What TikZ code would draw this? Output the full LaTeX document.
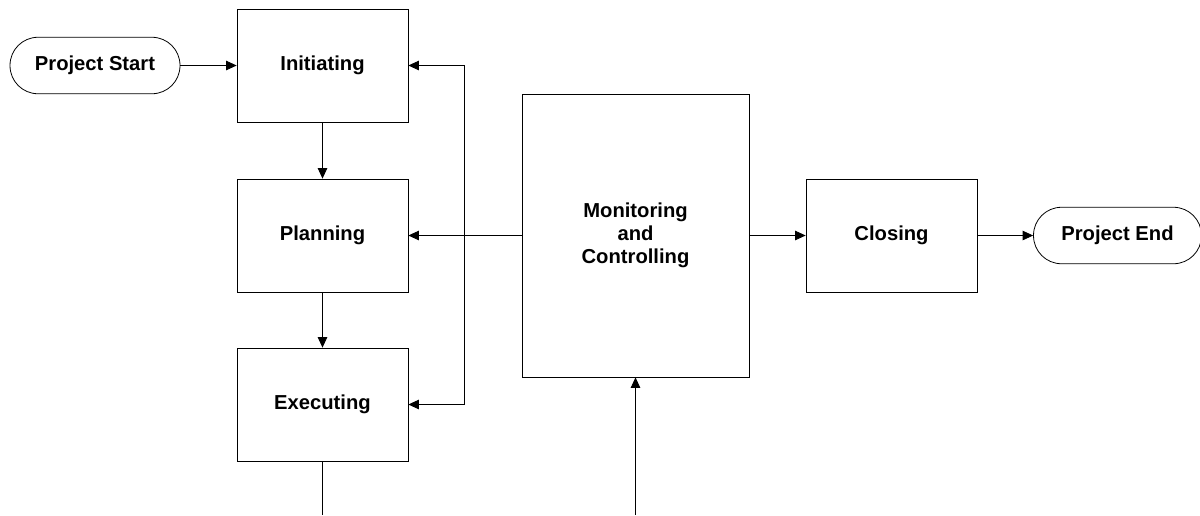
\documentclass[tikz,border=0pt]{standalone}
\usepackage{fontspec}
\setmainfont{Liberation Sans}
\usetikzlibrary{arrows.meta}
\tikzset{
  label font/.style={font=\fontsize{11.5}{13}\selectfont\bfseries},
  phase/.style={draw, line width=0.45pt, minimum width=3.42cm, minimum height=2.26cm,
    inner sep=0pt, align=center, label font},
  terminal/.style={draw, line width=0.45pt, rounded corners=0.56cm, minimum height=1.13cm,
    inner sep=0pt, align=center, label font},
  flow/.style={line width=0.45pt, -{Triangle[length=0.21cm,width=0.19cm]}},
  plain/.style={line width=0.45pt}
}
\begin{document}
\begin{tikzpicture}[x=0.02cm, y=-0.02cm]
  \useasboundingbox (0,0) rectangle (1200,515);
  \clip (0,0) rectangle (1200,515);

  % terminals
  \node[terminal, minimum width=3.4cm] (start) at (95,65.5) {Project Start};
  \node[terminal, minimum width=3.36cm] (end) at (1117.5,235.5) {Project End};

  % process groups
  \node[phase] (init) at (322.5,65.5) {Initiating};
  \node[phase] (plan) at (322.5,235.5) {Planning};
  \node[phase] (exec) at (322.5,404.5) {Executing};
  \node[phase, minimum width=4.54cm, minimum height=5.66cm] (mon) at (635.5,235.5)
    {Monitoring\\and\\Controlling};
  \node[phase] (close) at (891.5,235.5) {Closing};

  % feedback bracket and open ends
  \coordinate (fbtop) at (464.5,65.5);
  \coordinate (fbbot) at (464.5,404.5);
  \coordinate (execout) at (322.5,515);
  \coordinate (monin) at (635.5,515);

  % main flow
  \draw[flow] (start) -- (init);
  \draw[flow] (init) -- (plan);
  \draw[flow] (plan) -- (exec);
  \draw[flow] (mon) -- (plan);
  \draw[flow] (mon) -- (close);
  \draw[flow] (close) -- (end);

  % feedback to initiating and executing
  \draw[plain] (fbtop) -- (fbbot);
  \draw[flow] (fbtop) -- (init.east |- fbtop);
  \draw[flow] (fbbot) -- (exec.east |- fbbot);

  % leaving executing, entering monitoring from below
  \draw[plain] (exec) -- (execout);
  \draw[flow] (monin) -- (mon);
\end{tikzpicture}
\end{document}
